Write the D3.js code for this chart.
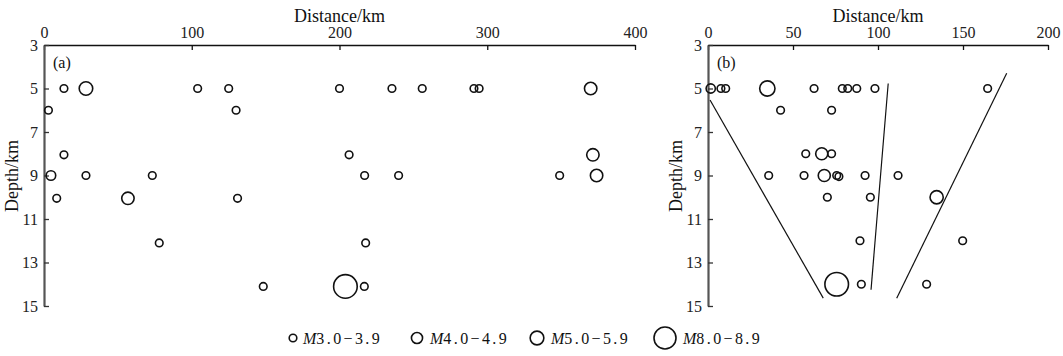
<!DOCTYPE html>
<html>
<head>
<meta charset="utf-8">
<script src="https://cdn.jsdelivr.net/npm/d3@7"></script>
<style>
  html, body { margin: 0; padding: 0; background: #fff; }
  svg { display: block; font-family: "Liberation Serif", "DejaVu Serif", serif; }
</style>
</head>
<body>
<svg id="chart" width="1063" height="356"></svg>
<script>
// ---------------- data ----------------
// Panel (a): distance (km), depth (km), magnitude (estimated from circle size)
const aDistance = [13.5, 28.4, 104, 125, 200, 235.5, 256, 291, 294.5, 370,
                   3, 130,
                   13.5, 206.5, 371.5,
                   4.7, 28.4, 73.3, 217, 240, 349, 374,
                   8.6, 56.8, 131,
                   78, 217.7,
                   148.4, 204, 216.8];
const aDepth = [5, 5, 5, 5, 5, 5, 5, 5, 5, 5,
                6, 6,
                8.05, 8.05, 8.05,
                9, 9, 9, 9, 9, 9, 9,
                10.05, 10.05, 10.05,
                12.1, 12.1,
                14.1, 14.1, 14.1];
const aMag = [3.5, 5.35, 3.5, 3.5, 3.5, 3.5, 3.5, 3.5, 3.5, 5.0,
              3.5, 3.5,
              3.5, 3.5, 5.0,
              4.1, 3.5, 3.5, 3.5, 3.5, 3.5, 5.0,
              3.5, 5.0, 3.5,
              3.5, 3.5,
              3.5, 8.5, 3.5];

// Panel (b)
const bDistance = [1.6, 7.6, 10.4, 34.9, 62.4, 79, 82.2, 87.5, 98.2, 164.5,
                   42.7, 72.7,
                   57.5, 66.9, 72.7,
                   35.7, 56.5, 68.4, 75.7, 77, 92.4, 111.8,
                   70.2, 95.5, 134.5,
                   89.4, 149.8,
                   75.7, 90.2, 128.6];
const bDepth = [5, 5, 5, 5, 5, 5, 5, 5, 5, 5,
                6, 6,
                8, 8, 8,
                9, 9, 9, 9, 9.05, 9, 9,
                10, 10, 10,
                12, 12,
                14, 14, 14];
const bMag = [4.0, 3.5, 3.5, 5.9, 3.5, 3.5, 3.5, 3.5, 3.5, 3.5,
              3.5, 3.5,
              3.5, 4.9, 3.5,
              3.5, 3.5, 4.9, 3.5, 3.5, 3.5, 3.5,
              3.5, 3.5, 5.25,
              3.5, 3.5,
              8.5, 3.5, 3.5];

// Panel (b) fault lines: [distance, depth] end points
const bLineStart = [[1.2, 5.53], [106, 4.77], [175.7, 4.3]];
const bLineEnd   = [[67.8, 14.64], [95.9, 14.25], [111, 14.64]];

// Axes ticks
const aXTicks = [0, 100, 200, 300, 400];
const bXTicks = [0, 50, 100, 150, 200];
const yTicks = [3, 5, 7, 9, 11, 13, 15];

// Legend
const legendLabels = ["3.0\u22123.9", "4.0\u22124.9", "5.0\u22125.9", "8.0\u22128.9"];
const legendMag = [3.5, 4.6, 5.4, 8.0];

// ---------------- drawing ----------------
const svg = d3.select("#chart");
svg.append("rect").attr("width", 1063).attr("height", 356).attr("fill", "#fff");

const rScale = d3.scaleLinear().domain([3.5, 8.5]).range([3.8, 11.8]);
const yScale = d3.scaleLinear().domain([3, 15]).range([45, 306]);

function drawPanel(opts) {
  const x = d3.scaleLinear().domain(opts.xDomain).range(opts.xRange);
  const g = svg.append("g");

  // top x axis
  const xAxis = d3.axisTop(x).tickValues(opts.xTicks).tickSizeInner(-5).tickSizeOuter(0).tickPadding(7);
  const gx = g.append("g").attr("transform", `translate(0,${yScale(3)})`).call(xAxis);
  gx.select(".domain").attr("stroke", "#111").attr("stroke-width", 1.6);
  gx.selectAll(".tick line").attr("stroke", "#111").attr("stroke-width", 1.3);
  gx.selectAll(".tick text").attr("font-family", "Liberation Serif").attr("font-size", 16).attr("fill", "#222");

  // left y axis
  const yAxis = d3.axisLeft(yScale).tickValues(yTicks).tickSizeInner(-5).tickSizeOuter(0).tickPadding(6);
  const gy = g.append("g").attr("transform", `translate(${x(opts.xDomain[0])},0)`).call(yAxis);
  gy.select(".domain").attr("stroke", "#555").attr("stroke-width", 2.2);
  gy.selectAll(".tick line").attr("stroke", "#333").attr("stroke-width", 1.3);
  gy.selectAll(".tick text").attr("font-family", "Liberation Serif").attr("font-size", 16).attr("fill", "#222");

  // titles
  g.append("text")
    .attr("x", (opts.xRange[0] + opts.xRange[1]) / 2)
    .attr("y", 21.5)
    .attr("text-anchor", "middle")
    .attr("font-size", 18)
    .attr("fill", "#111")
    .text("Distance/km");
  g.append("text")
    .attr("transform", `translate(${opts.xRange[0] - 26},176) rotate(-90)`)
    .attr("text-anchor", "middle")
    .attr("font-size", 18)
    .attr("fill", "#111")
    .text("Depth/km");
  g.append("text")
    .attr("x", opts.xRange[0] + 9)
    .attr("y", 68)
    .attr("font-size", 16)
    .attr("fill", "#111")
    .text(opts.label);

  // fault lines
  if (opts.lineStart) {
    g.selectAll("line.fault")
      .data(d3.range(opts.lineStart.length))
      .join("line")
      .attr("class", "fault")
      .attr("x1", i => x(opts.lineStart[i][0]))
      .attr("y1", i => yScale(opts.lineStart[i][1]))
      .attr("x2", i => x(opts.lineEnd[i][0]))
      .attr("y2", i => yScale(opts.lineEnd[i][1]))
      .attr("stroke", "#111")
      .attr("stroke-width", 1.2);
  }

  // events
  g.selectAll("circle.ev")
    .data(d3.range(opts.dist.length))
    .join("circle")
    .attr("class", "ev")
    .attr("cx", i => x(opts.dist[i]))
    .attr("cy", i => yScale(opts.depth[i]))
    .attr("r", i => rScale(opts.mag[i]))
    .attr("fill", "none")
    .attr("stroke", "#111")
    .attr("stroke-width", 1.6);
}

drawPanel({xDomain: [0, 400], xRange: [44, 635], xTicks: aXTicks, label: "(a)",
           dist: aDistance, depth: aDepth, mag: aMag});
drawPanel({xDomain: [0, 200], xRange: [708, 1048], xTicks: bXTicks, label: "(b)",
           dist: bDistance, depth: bDepth, mag: bMag,
           lineStart: bLineStart, lineEnd: bLineEnd});

// legend
const legCx = [293, 417, 537, 665];
const legTx = [303, 430, 551, 683];
const lg = svg.append("g");
legendLabels.forEach((lab, i) => {
  lg.append("circle")
    .attr("cx", legCx[i]).attr("cy", 338)
    .attr("r", rScale(legendMag[i]))
    .attr("fill", "none").attr("stroke", "#111").attr("stroke-width", 1.6);
  const t = lg.append("text")
    .attr("x", legTx[i]).attr("y", 344)
    .attr("font-size", 16).attr("fill", "#111");
  t.append("tspan").attr("font-style", "italic").text("M");
  t.append("tspan").attr("letter-spacing", 2.4).text(lab);
});
</script>
</body>
</html>
